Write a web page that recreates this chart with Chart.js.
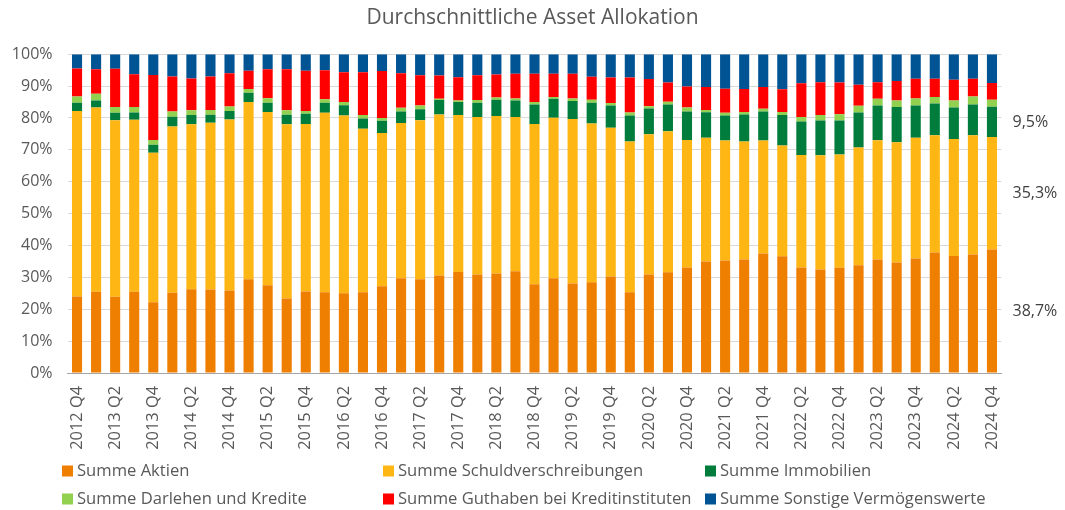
<!DOCTYPE html>
<html>
<head>
<meta charset="utf-8">
<title>Durchschnittliche Asset Allokation</title>
<script src="https://cdn.jsdelivr.net/npm/chart.js@4/dist/chart.umd.min.js"></script>
<style>
  body { margin: 0; background: #fff; }
  canvas { display: block; }
</style>
</head>
<body>
<canvas id="myChart" width="1065" height="510"></canvas>
<script>
const quarters = [
  "2012 Q4",
  "2013 Q1", "2013 Q2", "2013 Q3", "2013 Q4",
  "2014 Q1", "2014 Q2", "2014 Q3", "2014 Q4",
  "2015 Q1", "2015 Q2", "2015 Q3", "2015 Q4",
  "2016 Q1", "2016 Q2", "2016 Q3", "2016 Q4",
  "2017 Q1", "2017 Q2", "2017 Q3", "2017 Q4",
  "2018 Q1", "2018 Q2", "2018 Q3", "2018 Q4",
  "2019 Q1", "2019 Q2", "2019 Q3", "2019 Q4",
  "2020 Q1", "2020 Q2", "2020 Q3", "2020 Q4",
  "2021 Q1", "2021 Q2", "2021 Q3", "2021 Q4",
  "2022 Q1", "2022 Q2", "2022 Q3", "2022 Q4",
  "2023 Q1", "2023 Q2", "2023 Q3", "2023 Q4",
  "2024 Q1", "2024 Q2", "2024 Q3", "2024 Q4"
];

// Anteile in %
const aktien = [
  24.0, 25.5, 23.9, 25.5, 22.2, 25.2, 26.3, 26.2, 25.9, 29.4,
  27.5, 23.4, 25.6, 25.3, 25.0, 25.3, 27.2, 29.7, 29.4, 30.6,
  31.7, 30.9, 31.2, 31.9, 27.8, 29.7, 28.1, 28.5, 30.3, 25.3,
  30.9, 31.6, 33.1, 35.0, 35.3, 35.6, 37.5, 36.6, 33.1, 32.5,
  33.0, 33.8, 35.6, 34.7, 35.9, 37.8, 36.7, 37.2, 38.7
];
const schuldverschreibungen = [
  58.2, 57.8, 55.4, 53.9, 46.9, 52.1, 51.7, 52.3, 53.6, 55.6,
  54.4, 54.6, 52.5, 56.3, 55.8, 51.3, 48.1, 48.7, 49.9, 50.5,
  49.2, 49.4, 49.4, 48.4, 50.3, 50.4, 51.6, 49.8, 46.6, 47.3,
  44.0, 44.2, 40.0, 38.8, 37.6, 37.0, 35.4, 34.8, 35.3, 35.8,
  35.5, 36.9, 37.4, 37.7, 37.9, 36.8, 36.7, 37.4, 35.3
];
const immobilien = [
  2.6, 2.2, 2.3, 2.3, 2.5, 3.1, 2.9, 2.5, 2.7, 2.9,
  2.9, 3.0, 3.2, 3.2, 3.2, 3.2, 3.8, 3.6, 3.4, 4.5,
  4.1, 4.5, 5.1, 5.2, 6.1, 5.9, 5.6, 6.5, 7.0, 8.2,
  8.1, 8.4, 8.9, 8.0, 7.9, 8.5, 9.1, 9.5, 10.5, 10.9,
  10.7, 11.0, 10.9, 11.0, 10.1, 9.9, 9.9, 9.6, 9.5
];
const darlehen = [
  1.9, 2.1, 1.8, 1.7, 1.5, 1.6, 1.5, 1.5, 1.4, 1.2,
  1.4, 1.4, 0.9, 1.1, 1.0, 1.1, 0.9, 1.2, 1.2, 0.4,
  0.5, 0.8, 0.7, 0.6, 0.8, 0.6, 0.8, 0.9, 0.8, 0.9,
  0.7, 0.9, 1.3, 0.7, 0.8, 0.8, 0.9, 1.0, 1.4, 1.7,
  2.0, 2.1, 2.1, 2.1, 2.2, 2.1, 2.2, 2.5, 2.2
];
const guthaben = [
  8.8, 7.7, 12.0, 10.3, 20.4, 11.0, 10.0, 10.5, 10.4, 5.7,
  9.1, 12.9, 12.6, 9.1, 9.3, 13.4, 14.7, 10.8, 9.5, 7.3,
  7.3, 7.8, 7.2, 7.8, 8.9, 7.3, 7.8, 7.2, 8.0, 11.0,
  8.5, 6.0, 6.6, 7.2, 7.6, 7.2, 6.8, 7.1, 10.6, 10.3,
  9.9, 6.6, 5.2, 6.1, 6.2, 5.7, 6.5, 5.6, 5.3
];
const sonstige = [
  4.5, 4.7, 4.6, 6.3, 6.5, 7.0, 7.6, 7.0, 6.0, 5.2,
  4.7, 4.7, 5.2, 5.0, 5.7, 5.7, 5.3, 6.0, 6.6, 6.7,
  7.2, 6.6, 6.4, 6.1, 6.1, 6.1, 6.1, 7.1, 7.3, 7.3,
  7.8, 8.9, 10.1, 10.3, 10.8, 10.9, 10.3, 11.0, 9.1, 8.8,
  8.9, 9.6, 8.8, 8.4, 7.7, 7.7, 8.0, 7.7, 9.0
];
const yTicks = [0, 10, 20, 30, 40, 50, 60, 70, 80, 90, 100];

const textColor = "#595959";
Chart.defaults.font.family = "'Open Sans', 'Noto Sans', sans-serif";
Chart.defaults.font.size = 16;
Chart.defaults.color = textColor;

// Werte am letzten Balken (rechts daneben)
const lastValueLabels = {
  id: "lastValueLabels",
  afterDatasetsDraw(chart) {
    const ctx = chart.ctx;
    ctx.save();
    ctx.font = "16px 'Open Sans', 'Noto Sans', sans-serif";
    ctx.fillStyle = "#404040";
    ctx.textAlign = "left";
    ctx.textBaseline = "middle";
    [0, 1, 2].forEach(i => {
      const meta = chart.getDatasetMeta(i);
      const el = meta.data[meta.data.length - 1];
      const ds = chart.data.datasets[i];
      const v = ds.data[ds.data.length - 1];
      const y = (el.y + el.base) / 2;
      ctx.fillText(v.toFixed(1).replace(".", ",") + "%", chart.chartArea.right + 11, y);
    });
    ctx.restore();
  }
};

// Legende in drei Spalten
const gridLegend = {
  id: "gridLegend",
  afterDraw(chart) {
    const ctx = chart.ctx;
    const cols = [62, 383, 705];
    const rows = [471, 499];
    ctx.save();
    ctx.font = "16.6px 'Open Sans', 'Noto Sans', sans-serif";
    ctx.textBaseline = "middle";
    ctx.textAlign = "left";
    chart.data.datasets.forEach((ds, i) => {
      const x = cols[i % 3];
      const y = rows[Math.floor(i / 3)];
      ctx.fillStyle = ds.backgroundColor;
      ctx.fillRect(x, y - 5.5, 11, 11);
      ctx.fillStyle = textColor;
      ctx.fillText(ds.label, x + 15, y);
    });
    ctx.restore();
  }
};

const graphData = {
  labels: quarters,
  datasets: [
    { label: "Summe Aktien", backgroundColor: "#ef7f00", data: aktien },
    { label: "Summe Schuldverschreibungen", backgroundColor: "#fdb614", data: schuldverschreibungen },
    { label: "Summe Immobilien", backgroundColor: "#007d3c", data: immobilien },
    { label: "Summe Darlehen und Kredite", backgroundColor: "#92d050", data: darlehen },
    { label: "Summe Guthaben bei Kreditinstituten", backgroundColor: "#ff0000", data: guthaben },
    { label: "Summe Sonstige Vermögenswerte", backgroundColor: "#005494", data: sonstige }
  ]
};

const ctx = document.getElementById("myChart").getContext("2d");

const chart = new Chart(ctx, {
  type: "bar",
  data: graphData,
  plugins: [lastValueLabels, gridLegend],
  options: {
    responsive: false,
    animation: false,
    layout: { padding: 0 },
    datasets: {
      bar: { categoryPercentage: 1, barPercentage: 0.53, borderWidth: 0 }
    },
    plugins: {
      title: {
        display: true,
        text: "Durchschnittliche Asset Allokation",
        color: textColor,
        font: { size: 21, weight: "normal" },
        padding: { top: 5, bottom: 24 }
      },
      legend: { display: false },
      tooltip: { enabled: false }
    },
    scales: {
      x: {
        stacked: true,
        grid: { display: false, drawTicks: false },
        border: { color: "#a6a6a6", width: 1 },
        ticks: {
          autoSkip: false,
          minRotation: 90,
          maxRotation: 90,
          padding: 13,
          color: textColor,
          font: { size: 16.4 },
          callback: (val, i) => (i % 2 === 0 ? quarters[i] : "")
        },
        afterFit: scale => { scale.height = 137; }
      },
      y: {
        stacked: true,
        min: 0,
        max: 100,
        afterBuildTicks: scale => { scale.ticks = yTicks.map(v => ({ value: v })); },
        grid: { color: "#d9d9d9", lineWidth: 1, drawTicks: false },
        border: { display: false },
        ticks: {
          padding: 15,
          color: textColor,
          callback: v => v + "%"
        },
        afterFit: scale => { scale.width = 67.5; }
      },
      // leerer Platz rechts für die Wertbeschriftungen
      yRight: {
        position: "right",
        min: 0,
        max: 100,
        grid: { display: false, drawTicks: false },
        border: { display: false },
        ticks: { display: false },
        afterFit: scale => { scale.width = 63.5; }
      }
    }
  }
});
</script>
</body>
</html>
